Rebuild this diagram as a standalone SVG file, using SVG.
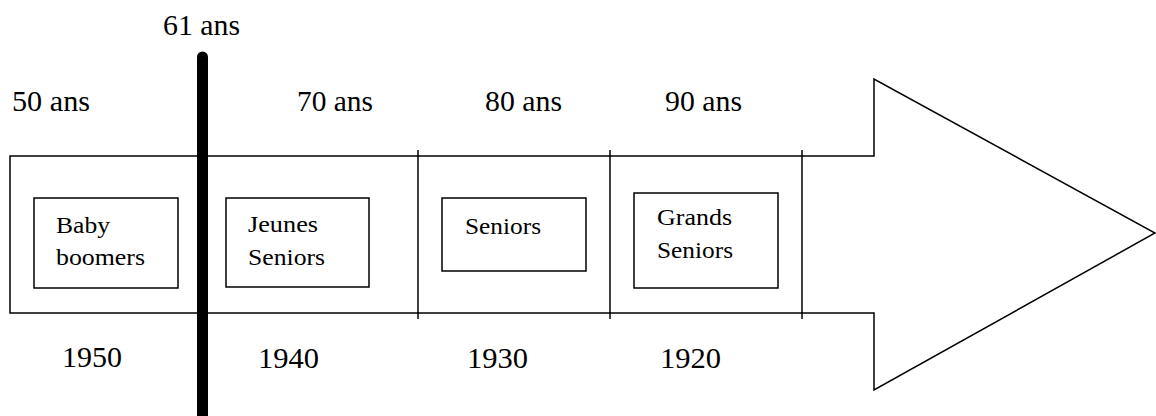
<svg xmlns="http://www.w3.org/2000/svg" width="1156" height="416" viewBox="0 0 1156 416">
<style>
.ln{fill:none;stroke:#000;stroke-width:1.5}
.box{fill:#fff;stroke:#000;stroke-width:1.5}
text{font-family:'Liberation Serif','Times New Roman',Times,serif;fill:#000}
.lbl{font-size:29px}
.in{font-size:24px}
</style>
<rect width="1156" height="416" fill="#fff"/>
<g id="arrow">
<path class="ln" d="M10,156 H874 V79 L1155,233 L874,390 V313 H10 Z"/>
</g>
<g id="connectors">
<line class="ln" x1="418" y1="150" x2="418" y2="319"/>
<line class="ln" x1="610" y1="150" x2="610" y2="319"/>
<line class="ln" x1="802" y1="150" x2="802" y2="319"/>
<line x1="202.5" y1="57" x2="202.5" y2="430" stroke="#000" stroke-width="11" stroke-linecap="round"/>
</g>
<g id="baby">
<rect class="box" x="34" y="198" width="144" height="90"/>
<text class="in" x="56" y="233" textLength="54" lengthAdjust="spacingAndGlyphs">Baby</text>
<text class="in" x="56" y="265" textLength="89" lengthAdjust="spacingAndGlyphs">boomers</text>
</g>
<g id="jeunes">
<rect class="box" x="226" y="198" width="143" height="89"/>
<text class="in" x="248" y="232" textLength="70" lengthAdjust="spacingAndGlyphs">Jeunes</text>
<text class="in" x="248" y="265" textLength="77" lengthAdjust="spacingAndGlyphs">Seniors</text>
</g>
<g id="seniors">
<rect class="box" x="442" y="198" width="144" height="73"/>
<text class="in" x="465" y="234" textLength="76" lengthAdjust="spacingAndGlyphs">Seniors</text>
</g>
<g id="grands">
<rect class="box" x="634" y="193" width="144" height="95"/>
<text class="in" x="657" y="225" textLength="75" lengthAdjust="spacingAndGlyphs">Grands</text>
<text class="in" x="657" y="258" textLength="76" lengthAdjust="spacingAndGlyphs">Seniors</text>
</g>
<g id="labels">
<text class="lbl" x="163" y="35" textLength="77" lengthAdjust="spacingAndGlyphs">61 ans</text>
<text class="lbl" x="12" y="111" textLength="78" lengthAdjust="spacingAndGlyphs">50 ans</text>
<text class="lbl" x="297" y="111" textLength="76" lengthAdjust="spacingAndGlyphs">70 ans</text>
<text class="lbl" x="485" y="111" textLength="77" lengthAdjust="spacingAndGlyphs">80 ans</text>
<text class="lbl" x="665" y="111" textLength="77" lengthAdjust="spacingAndGlyphs">90 ans</text>
<text class="lbl" x="62" y="367" textLength="60" lengthAdjust="spacingAndGlyphs">1950</text>
<text class="lbl" x="258" y="368" textLength="61" lengthAdjust="spacingAndGlyphs">1940</text>
<text class="lbl" x="467" y="368" textLength="61" lengthAdjust="spacingAndGlyphs">1930</text>
<text class="lbl" x="660" y="368" textLength="61" lengthAdjust="spacingAndGlyphs">1920</text>
</g>
</svg>
